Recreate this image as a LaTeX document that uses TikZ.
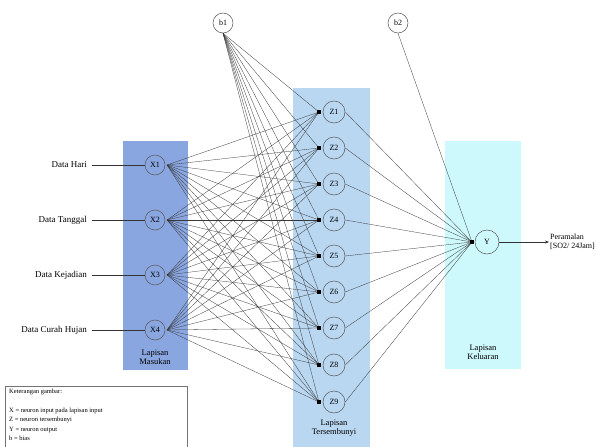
\documentclass[tikz,border=0pt]{standalone}
\usepackage{fontspec}
\setmainfont{Liberation Serif}
\usetikzlibrary{arrows.meta}
\definecolor{inlayer}{RGB}{138,166,224}
\definecolor{hidlayer}{RGB}{186,215,241}
\definecolor{outlayer}{RGB}{205,248,252}
\definecolor{wirecol}{RGB}{55,55,55}
\begin{document}
\begin{tikzpicture}[x=1pt,y=-1pt,
  neuron/.style={circle,draw=black!65,line width=0.5pt,minimum size=20pt,inner sep=0pt,font=\fontsize{8}{9}\selectfont},
  hub/.style={rectangle,fill=black,minimum size=3.6pt,inner sep=0pt},
  wire/.style={draw=wirecol,line width=0.3pt},
  feed/.style={draw=black!80,line width=0.5pt},
  layertext/.style={align=center,font=\fontsize{8.5}{9.5}\selectfont},
  inputtext/.style={anchor=east,font=\fontsize{9}{10}\selectfont,inner sep=1pt}
]
\useasboundingbox (0,0) rectangle (606,447);
\fill[white] (0,0) rectangle (606,447);

% layer bands
\fill[inlayer] (123,141) rectangle (188,370);
\fill[hidlayer] (293,88) rectangle (370,447);
\fill[outlayer] (445,141) rectangle (521,369);

% input neurons with their data labels
\foreach \i/\yy/\txt in {1/165/Data Hari,2/220/Data Tanggal,3/275/Data Kejadian,4/330/Data Curah Hujan}{
  \node[neuron] (x\i) at (155,\yy) {X\i};
  \coordinate (xo\i) at (167,\yy);
  \node[inputtext] (d\i) at (88,\yy) {\txt};
  \draw[feed,shorten <=4pt] (d\i.east) -- (x\i.west);
}

% hidden neurons and their input junctions
\foreach \j/\yy in {1/112,2/148,3/184,4/220,5/256,6/292,7/328,8/365,9/402}{
  \node[neuron,minimum size=22pt] (z\j) at (334,\yy) {Z\j};
  \coordinate (zi\j) at (319,\yy);
}

% bias neurons
\node[neuron] (b1) at (223,23) {b1};
\node[neuron] (b2) at (398,23) {b2};

% output neuron
\node[neuron,minimum size=24pt] (y) at (487,242) {Y};
\coordinate (yi) at (472,242);

% weights: input -> hidden, bias -> hidden
\foreach \i in {1,...,4}{
  \foreach \j in {1,...,9}{
    \draw[wire] (xo\i) -- (zi\j);
  }
}
\foreach \j in {1,...,9}{
  \draw[wire] (b1.south) -- (zi\j);
  \draw[wire] (z\j.east) -- (yi);
}
\draw[wire] (b2.south) -- (yi);

% junction markers
\foreach \j in {1,...,9}{
  \node[hub] at (zi\j) {};
}
\node[hub,minimum size=4.5pt] at (yi) {};

% output
\node[anchor=west,align=left,font=\fontsize{8}{9.5}\selectfont,inner sep=1pt] (out) at (549,242) {Peramalan\\{[SO2/ 24Jam]}};
\draw[feed,-{Stealth[length=4pt,width=3pt]}] (y.east) -- (out.west);

% layer captions
\node[layertext] (lin) at (155,357) {Lapisan\\Masukan};
\node[layertext] (lhid) at (334,428) {Lapisan\\Tersembunyi};
\node[layertext] (lout) at (483,352) {Lapisan\\Keluaran};

% legend
\draw[black!55,line width=0.6pt] (5,386) rectangle (187,452);
\node[anchor=north west,align=left,inner sep=0pt,font=\fontsize{6.5}{9.4}\selectfont] (leg) at (9,389)
  {Keterangan gambar:\\[9.4pt]
   X = neuron input pada lapisan input\\
   Z = neuron tersembunyi\\
   Y = neuron output\\
   b = bias};
\end{tikzpicture}
\end{document}
